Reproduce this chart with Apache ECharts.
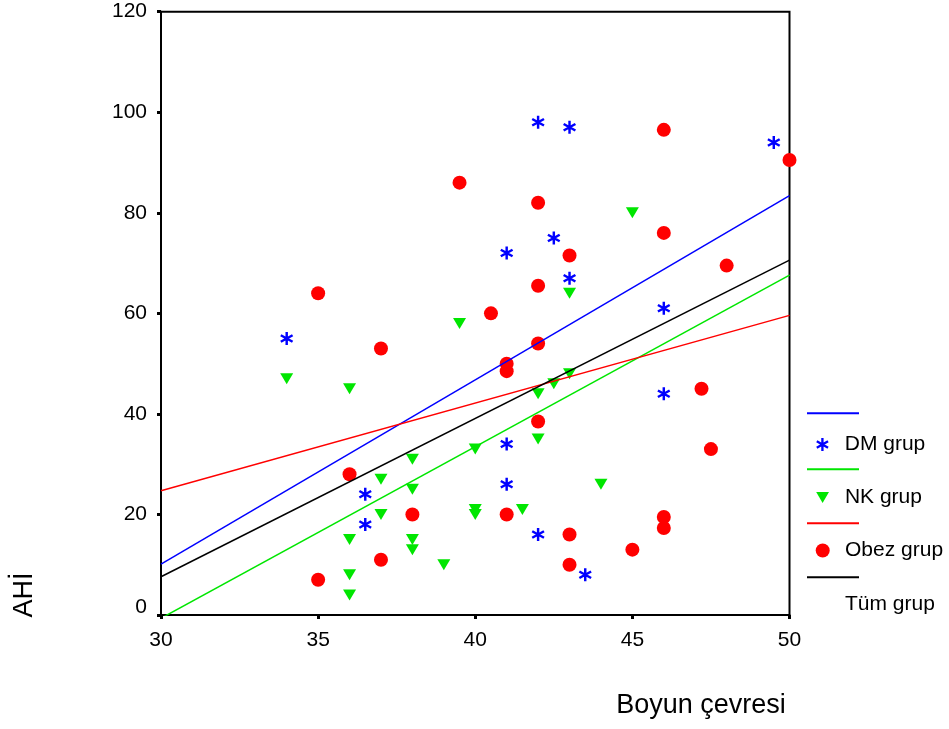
<!DOCTYPE html>
<html>
<head>
<meta charset="utf-8">
<script src="https://cdn.jsdelivr.net/npm/echarts@6/dist/echarts.min.js"></script>
<style>html,body{margin:0;padding:0;background:#fff}#c{width:949px;height:729px}</style>
</head>
<body>
<div id="c"></div>
<script>
// --- data ---
const dmX = [34, 42, 43, 49.5, 41, 42.5, 43, 46, 46, 41, 41, 36.5, 36.5, 42, 43.5];
const dmY = [55, 98, 97, 94, 72, 75, 67, 61, 44, 34, 26, 24, 18, 16, 8];
const nkX = [34, 36, 39.5, 45, 43, 43, 42.5, 42, 42, 40, 38, 37, 38, 44, 37, 40, 40, 41.5, 36, 38, 38, 39, 36, 36];
const nkY = [47, 45, 58, 80, 64, 48, 46, 44, 35, 33, 31, 27, 25, 26, 20, 21, 20, 21, 15, 15, 13, 10, 8, 4];
const obX = [39.5, 42, 35, 37, 40.5, 42, 42, 41, 41, 46, 50, 46, 43, 48, 47.2, 42, 36, 38, 41, 37, 35, 43, 43, 47.5, 46, 46, 45];
const obY = [86, 82, 64, 53, 60, 65.5, 54, 50, 48.5, 96.5, 90.5, 76, 71.5, 69.5, 45, 38.5, 28, 20, 20, 11, 7, 16, 10, 33, 19.5, 17.3, 13];
const fitX = [30, 50];
const dmFit = [10.1, 83.4];
const nkFit = [-0.65, 67.6];
const obFit = [24.7, 59.6];
const allFit = [7.6, 70.6];
const xTicks = [30, 35, 40, 45, 50];
const yTicks = [0, 20, 40, 60, 80, 100, 120];
const groupNames = ['DM grup', 'NK grup', 'Obez grup', 'Tüm grup'];
const xTitle = 'Boyun çevresi';
const yTitle = 'AHİ';

const BLUE = '#0000ff', GREEN = '#00e600', RED = '#ff0000', BLACK = '#000000';
const FONT = 'Liberation Sans';
const zip = (a, b) => a.map((v, i) => [v, b[i]]);

const ASTER = 'path://M41 0 L59 0 L59 100 L41 100 Z M2.2 32.8 L11.2 17.2 L97.8 67.2 L88.8 82.8 Z M97.8 32.8 L11.2 82.8 L2.2 67.2 L88.8 17.2 Z';
const TRI_DOWN = 'path://M0 0 L100 0 L50 86 Z';

const chart = echarts.init(document.getElementById('c'), null, {renderer: 'canvas'});

function lineLegend(name, color, y) {
  return {
    data: [{name: name, icon: 'rect', itemStyle: {color: color}}],
    left: 807, top: y - 1, padding: 0,
    itemWidth: 52, itemHeight: 2,
    formatter: () => '',
    textStyle: {fontSize: 2, lineHeight: 2},
    selectedMode: false
  };
}
function symLegend(name, icon, color, y, w, h) {
  return {
    data: [{name: name, icon: icon, itemStyle: {color: color}}],
    left: 822.7 - w / 2, top: y - 10, padding: 0,
    itemWidth: w, itemHeight: h,
    textStyle: {fontFamily: FONT, fontSize: 21, color: '#000', lineHeight: 20, padding: [7, 0, 0, 17.3 - w / 2]},
    selectedMode: false
  };
}

const option = {
  animation: false,
  backgroundColor: '#fff',
  grid: {left: 161, right: 159.5, top: 11.7, bottom: 114, show: true, borderColor: '#000', borderWidth: 2, backgroundColor: 'transparent'},
  xAxis: {
    type: 'value', min: xTicks[0], max: xTicks[xTicks.length - 1], interval: 5,
    axisLine: {show: true, lineStyle: {color: '#000', width: 2}},
    axisTick: {show: true, length: 4, lineStyle: {color: '#000', width: 3}},
    axisLabel: {color: '#000', fontFamily: FONT, fontSize: 21, margin: 15},
    splitLine: {show: false}
  },
  yAxis: {
    type: 'value', min: yTicks[0], max: yTicks[yTicks.length - 1], interval: 20,
    axisLine: {show: true, lineStyle: {color: '#000', width: 2}},
    axisTick: {show: true, length: 4, lineStyle: {color: '#000', width: 3}},
    axisLabel: {
      color: '#000', fontFamily: FONT, fontSize: 21, margin: 14,
      formatter: v => v === 0 ? '{z|0}' : String(v),
      rich: {z: {fontFamily: FONT, fontSize: 21, color: '#000', padding: [0, 0, 16, 0]}}
    },
    splitLine: {show: false}
  },
  legend: [
    lineLegend('DM fit', BLUE, 413.3),
    symLegend(groupNames[0], ASTER, BLUE, 441, 13, 13),
    lineLegend('NK fit', GREEN, 469.3),
    symLegend(groupNames[1], TRI_DOWN, GREEN, 494, 13, 11),
    lineLegend('Obez fit', RED, 523.3),
    symLegend(groupNames[2], 'circle', RED, 547, 14, 14),
    lineLegend('Tüm fit', BLACK, 577.3),
    symLegend(groupNames[3], 'rect', 'rgba(0,0,0,0)', 601, 12, 12)
  ],
  graphic: [
    {type: 'text', x: 701, y: 706, style: {text: xTitle, font: '27px "Liberation Sans"', fill: '#000', textAlign: 'center', textVerticalAlign: 'middle'}},
    {type: 'text', x: 25, y: 595, rotation: Math.PI / 2, style: {text: yTitle, font: '27px "Liberation Sans"', fill: '#000', textAlign: 'center', textVerticalAlign: 'middle'}}
  ],
  series: [
    {name: groupNames[0], type: 'scatter', data: zip(dmX, dmY), symbol: ASTER, symbolSize: 13, itemStyle: {color: BLUE, opacity: 1}, z: 2},
    {name: groupNames[1], type: 'scatter', data: zip(nkX, nkY), symbol: TRI_DOWN, symbolSize: [13, 11], itemStyle: {color: GREEN, opacity: 1}, z: 2},
    {name: groupNames[2], type: 'scatter', data: zip(obX, obY), symbol: 'circle', symbolSize: 14, itemStyle: {color: RED, opacity: 1}, z: 2},
    {name: groupNames[3], type: 'scatter', data: [], itemStyle: {color: 'rgba(0,0,0,0)'}},
    {name: 'DM fit', type: 'line', data: zip(fitX, dmFit), showSymbol: false, clip: true, lineStyle: {color: BLUE, width: 1.5}, itemStyle: {color: BLUE}, z: 3},
    {name: 'NK fit', type: 'line', data: zip(fitX, nkFit), showSymbol: false, clip: true, lineStyle: {color: GREEN, width: 1.5}, itemStyle: {color: GREEN}, z: 3},
    {name: 'Obez fit', type: 'line', data: zip(fitX, obFit), showSymbol: false, clip: true, lineStyle: {color: RED, width: 1.5}, itemStyle: {color: RED}, z: 3},
    {name: 'Tüm fit', type: 'line', data: zip(fitX, allFit), showSymbol: false, clip: true, lineStyle: {color: BLACK, width: 1.5}, itemStyle: {color: BLACK}, z: 3}
  ]
};
chart.setOption(option);
</script>
</body>
</html>
